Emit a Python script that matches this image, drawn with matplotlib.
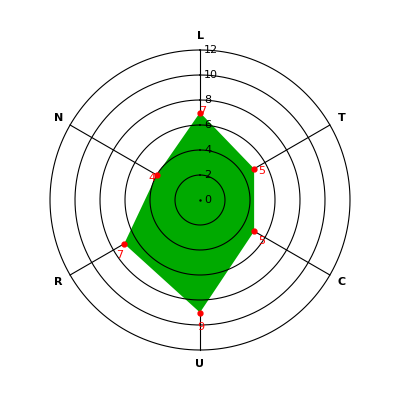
import numpy as np
import matplotlib
matplotlib.use("Agg")
import matplotlib.pyplot as plt

# data
axes_names = ["L", "T", "C", "U", "R", "N"]
values = [7, 5, 5, 9, 7, 4]
rings = [2, 4, 6, 8, 10, 12]
tick_labels = ["0", "2", "4", "6", "8", "10", "12"]

# label offsets for the red value labels, in pixels
val_offsets = [(3, 1), (8, -2), (8, -10), (1, -14), (-5, -11), (-5, -3)]

fig = plt.figure(figsize=(4, 4), dpi=100)
ax = fig.add_axes([0.125, 0.125, 0.75, 0.75], projection="polar")
ax.set_theta_offset(np.pi / 2)
ax.set_theta_direction(-1)
ax.set_ylim(0, 12)
ax.grid(False)
ax.set_xticks([])
ax.set_yticks([])
ax.spines["polar"].set_visible(False)
ax.patch.set_visible(False)

n = len(axes_names)
angles = np.arange(n) * 2 * np.pi / n

# spokes
for a in angles:
    ax.plot([a, a], [0, 12], color="black", lw=0.8, zorder=1, clip_on=False)

# filled polygon
th = np.append(angles, angles[0])
vv = np.append(values, values[0])
ax.fill(th, vv, color="#00aa00", lw=0, zorder=2)

# rings
circ = np.linspace(0, 2 * np.pi, 400)
for r in rings:
    ax.plot(circ, np.full_like(circ, r), color="black", lw=0.8, zorder=3,
            clip_on=False)

# radial tick labels along the top axis
ax.plot([0], [0], marker=".", color="black", ms=1.5, zorder=4)
for t in tick_labels:
    ax.annotate(t, (0, float(t)), xytext=(4, 0), textcoords="offset pixels",
                ha="left", va="center", fontsize=8, color="black", zorder=4)

# axis names
for a, name in zip(angles, axes_names):
    ax.text(a, 13.1, name, ha="center", va="center", fontsize=8,
            fontweight="bold", clip_on=False)

# vertices + value labels
ax.plot(angles, values, "o", color="red", ms=3.5, zorder=5, clip_on=False)
for a, v, off in zip(angles, values, val_offsets):
    ax.annotate(str(v), (a, v), xytext=off, textcoords="offset pixels",
                ha="center", va="center", fontsize=8, color="red", zorder=6)

fig.savefig("out.png", dpi=100, facecolor="white")
